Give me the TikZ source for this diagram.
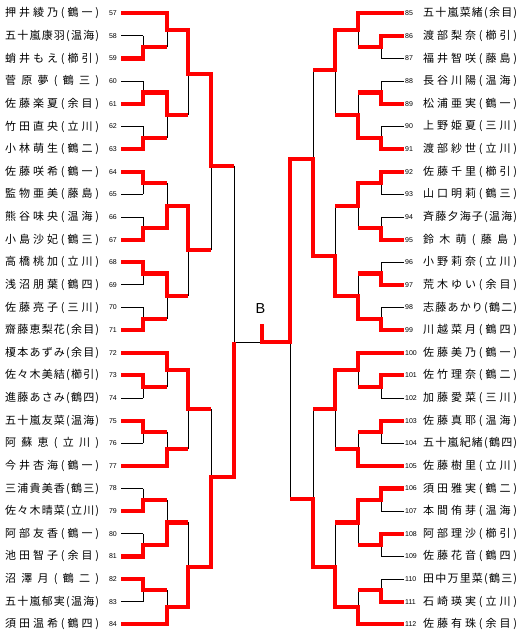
\documentclass[tikz,border=0pt]{standalone}
\usepackage{fontspec}
\newfontfamily\jp{Noto Sans CJK JP}
\newfontfamily\numf{Liberation Sans}
\makeatletter
\def\spreadname#1{\hbox to 94pt{\spr@first#1\@nil}}
\def\spr@first#1{#1\spr@rest}
\def\spr@rest#1{\ifx#1\@nil\else\hss#1\expandafter\spr@rest\fi}
\makeatother
\pgfmathdeclarefunction{rowy}{1}{\pgfmathparse{13.3+#1*22.63}}
\tikzset{
  lose/.style={black, line width=0.9pt},
  win/.style={red, line width=4.2pt, line join=miter},
  nm/.style={inner sep=0pt, anchor=west, font={\jp\fontsize{11pt}{12pt}\selectfont}},
  numl/.style={inner sep=0pt, anchor=east, font={\numf\fontsize{7pt}{8pt}\selectfont}},
  numr/.style={inner sep=0pt, anchor=west, font={\numf\fontsize{7pt}{8pt}\selectfont}},
}
\begin{document}
\begin{tikzpicture}[x=1pt,y=-1pt]
\useasboundingbox[fill=white] (0,0) rectangle (525,638);
% names and numbers, left
\foreach \i/\k/\nmtext in {0/57/押井綾乃(鶴一),1/58/五十嵐康羽(温海),2/59/蛸井もえ(櫛引),3/60/菅原夢(鶴三),4/61/佐藤楽夏(余目),5/62/竹田直央(立川),6/63/小林萌生(鶴二),7/64/佐藤咲希(鶴一),8/65/監物亜美(藤島),9/66/熊谷味央(温海),10/67/小島沙妃(鶴三),11/68/高橋桃加(立川),12/69/浅沼朋葉(鶴四),13/70/佐藤亮子(三川),14/71/齋藤恵梨花(余目),15/72/榎本あずみ(余目),16/73/佐々木美結(櫛引),17/74/進藤あさみ(鶴四),18/75/五十嵐友菜(温海),19/76/阿蘇恵(立川),20/77/今井杏海(鶴一),21/78/三浦貴美香(鶴三),22/79/佐々木晴菜(立川),23/80/阿部友香(鶴一),24/81/池田智子(余目),25/82/沼澤月(鶴二),26/83/五十嵐郁実(温海),27/84/須田温希(鶴四)}{
  \node[nm] (n\k) at (5,{rowy(\i)}) {\expandafter\spreadname\expandafter{\nmtext}};
  \node[numl] (k\k) at (117,{rowy(\i)}) {\k};
}
% names and numbers, right
\foreach \i/\k/\nmtext in {0/85/五十嵐菜緒(余目),1/86/渡部梨奈(櫛引),2/87/福井智咲(藤島),3/88/長谷川陽(温海),4/89/松浦亜実(鶴一),5/90/上野姫夏(三川),6/91/渡部紗世(立川),7/92/佐藤千里(櫛引),8/93/山口明莉(鶴三),9/94/斉藤夕海子(温海),10/95/鈴木萌(藤島),11/96/小野莉奈(立川),12/97/荒木ゆい(余目),13/98/志藤あかり(鶴二),14/99/川越菜月(鶴四),15/100/佐藤美乃(鶴一),16/101/佐竹理奈(鶴二),17/102/加藤愛菜(三川),18/103/佐藤真耶(温海),19/104/五十嵐紀緒(鶴四),20/105/佐藤樹里(立川),21/106/須田雅実(鶴二),22/107/本間侑芽(温海),23/108/阿部理沙(櫛引),24/109/佐藤花音(鶴四),25/110/田中万里菜(鶴三),26/111/石崎瑛実(立川),27/112/佐藤有珠(余目)}{
  \node[nm] (n\k) at (423,{rowy(\i)}) {\expandafter\spreadname\expandafter{\nmtext}};
  \node[numr] (k\k) at (405,{rowy(\i)}) {\k};
}
\node[inner sep=0pt, font={\numf\fontsize{14.5pt}{15pt}\selectfont}] (champ) at (260.5,309) {B};
% ---- black skeleton ----
\foreach \i in {0,...,27}{
  \draw[lose] (121,{rowy(\i)}) -- (143,{rowy(\i)});
  \draw[lose] (404,{rowy(\i)}) -- (381,{rowy(\i)});
}
\foreach \i in {0,15,20,27}{
  \draw[lose] (143,{rowy(\i)}) -- (167,{rowy(\i)});
  \draw[lose] (381,{rowy(\i)}) -- (358,{rowy(\i)});
}
\foreach \a in {1,3,5,7,9,11,13,16,18,21,23,25}{
  \draw[lose] (143,{rowy(\a)}) -- (143,{rowy(\a+1)}) (143,{rowy(\a+0.5)}) -- (167,{rowy(\a+0.5)});
  \draw[lose] (381,{rowy(\a)}) -- (381,{rowy(\a+1)}) (381,{rowy(\a+0.5)}) -- (358,{rowy(\a+0.5)});
}
\foreach \t/\b/\o in {0/1.5/0.75, 3.5/5.5/4.5, 7.5/9.5/8.5, 11.5/13.5/12.5, 15/16.5/15.75, 18.5/20/19.25, 21.5/23.5/22.5, 25.5/27/26.25}{
  \draw[lose] (167,{rowy(\t)}) -- (167,{rowy(\b)}) (167,{rowy(\o)}) -- (188,{rowy(\o)});
  \draw[lose] (358,{rowy(\t)}) -- (358,{rowy(\b)}) (358,{rowy(\o)}) -- (335,{rowy(\o)});
}
\foreach \t/\b/\o in {0.75/4.5/74, 8.5/12.5/250, 15.75/19.25/409.3, 22.5/26.25/566.7}{
  \draw[lose] (188,{rowy(\t)}) -- (188,{rowy(\b)}) (188,\o) -- (211,\o);
}
\foreach \t/\b/\o in {0.75/4.5/70, 8.5/12.5/255.7, 15.75/19.25/409.3, 22.5/26.25/566.7}{
  \draw[lose] (335,{rowy(\t)}) -- (335,{rowy(\b)}) (335,\o) -- (313,\o);
}
\draw[lose] (211,74) -- (211,250) (211,165.7) -- (234,165.7);
\draw[lose] (211,409.3) -- (211,566.7) (211,476.7) -- (234,476.7);
\draw[lose] (313,70) -- (313,255.7) (313,159.3) -- (290,159.3);
\draw[lose] (313,409.3) -- (313,566.7) (313,499) -- (290,499);
\draw[lose] (234,165.7) -- (234,476.7) (234,342) -- (262,342);
\draw[lose] (290,159.3) -- (290,499) (290,342) -- (262,342);
% ---- red winner paths, left ----
\draw[win] (121,{rowy(0)}) -- (167,{rowy(0)}) -- (167,{rowy(0.75)}) -- (188,{rowy(0.75)}) -- (188,74) -- (211,74) -- (211,165.7) -- (234,165.7);
\draw[win] (121,{rowy(2)}) -- (143,{rowy(2)}) -- (143,{rowy(1.5)}) -- (167,{rowy(1.5)});
\draw[win] (121,{rowy(4)}) -- (143,{rowy(4)}) -- (143,{rowy(3.5)}) -- (167,{rowy(3.5)}) -- (167,{rowy(4.5)}) -- (188,{rowy(4.5)});
\draw[win] (121,{rowy(6)}) -- (143,{rowy(6)}) -- (143,{rowy(5.5)}) -- (167,{rowy(5.5)});
\draw[win] (121,{rowy(7)}) -- (143,{rowy(7)}) -- (143,{rowy(7.5)}) -- (167,{rowy(7.5)});
\draw[win] (121,{rowy(10)}) -- (143,{rowy(10)}) -- (143,{rowy(9.5)}) -- (167,{rowy(9.5)}) -- (167,{rowy(8.5)}) -- (188,{rowy(8.5)}) -- (188,250) -- (211,250);
\draw[win] (121,{rowy(11)}) -- (143,{rowy(11)}) -- (143,{rowy(11.5)}) -- (167,{rowy(11.5)}) -- (167,{rowy(12.5)}) -- (188,{rowy(12.5)});
\draw[win] (121,{rowy(14)}) -- (143,{rowy(14)}) -- (143,{rowy(13.5)}) -- (167,{rowy(13.5)});
\draw[win] (121,{rowy(15)}) -- (167,{rowy(15)}) -- (167,{rowy(15.75)}) -- (188,{rowy(15.75)}) -- (188,409.3) -- (211,409.3);
\draw[win] (121,{rowy(16)}) -- (143,{rowy(16)}) -- (143,{rowy(16.5)}) -- (167,{rowy(16.5)});
\draw[win] (121,{rowy(18)}) -- (143,{rowy(18)}) -- (143,{rowy(18.5)}) -- (167,{rowy(18.5)});
\draw[win] (121,{rowy(20)}) -- (167,{rowy(20)}) -- (167,{rowy(19.25)}) -- (188,{rowy(19.25)});
\draw[win] (121,{rowy(22)}) -- (143,{rowy(22)}) -- (143,{rowy(21.5)}) -- (167,{rowy(21.5)});
\draw[win] (121,{rowy(24)}) -- (143,{rowy(24)}) -- (143,{rowy(23.5)}) -- (167,{rowy(23.5)}) -- (167,{rowy(22.5)}) -- (188,{rowy(22.5)});
\draw[win] (121,{rowy(25)}) -- (143,{rowy(25)}) -- (143,{rowy(25.5)}) -- (167,{rowy(25.5)});
\draw[win] (121,{rowy(27)}) -- (167,{rowy(27)}) -- (167,{rowy(26.25)}) -- (188,{rowy(26.25)}) -- (188,566.7) -- (211,566.7) -- (211,476.7) -- (234,476.7) -- (234,342);
% ---- red winner paths, right ----
\draw[win] (404,{rowy(0)}) -- (358,{rowy(0)}) -- (358,{rowy(0.75)}) -- (335,{rowy(0.75)}) -- (335,70) -- (313,70);
\draw[win] (404,{rowy(1)}) -- (381,{rowy(1)}) -- (381,{rowy(1.5)}) -- (358,{rowy(1.5)});
\draw[win] (404,{rowy(4)}) -- (381,{rowy(4)}) -- (381,{rowy(3.5)}) -- (358,{rowy(3.5)});
\draw[win] (404,{rowy(6)}) -- (381,{rowy(6)}) -- (381,{rowy(5.5)}) -- (358,{rowy(5.5)}) -- (358,{rowy(4.5)}) -- (335,{rowy(4.5)});
\draw[win] (404,{rowy(7)}) -- (381,{rowy(7)}) -- (381,{rowy(7.5)}) -- (358,{rowy(7.5)}) -- (358,{rowy(8.5)}) -- (335,{rowy(8.5)});
\draw[win] (404,{rowy(10)}) -- (381,{rowy(10)}) -- (381,{rowy(9.5)}) -- (358,{rowy(9.5)});
\draw[win] (404,{rowy(12)}) -- (381,{rowy(12)}) -- (381,{rowy(11.5)}) -- (358,{rowy(11.5)});
\draw[win] (404,{rowy(14)}) -- (381,{rowy(14)}) -- (381,{rowy(13.5)}) -- (358,{rowy(13.5)}) -- (358,{rowy(12.5)}) -- (335,{rowy(12.5)}) -- (335,255.7) -- (313,255.7) -- (313,159.3) -- (290,159.3) -- (290,342) -- (262,342) -- (262,324);
\draw[win] (404,{rowy(15)}) -- (358,{rowy(15)}) -- (358,{rowy(15.75)}) -- (335,{rowy(15.75)}) -- (335,409.3) -- (313,409.3);
\draw[win] (404,{rowy(16)}) -- (381,{rowy(16)}) -- (381,{rowy(16.5)}) -- (358,{rowy(16.5)});
\draw[win] (404,{rowy(18)}) -- (381,{rowy(18)}) -- (381,{rowy(18.5)}) -- (358,{rowy(18.5)});
\draw[win] (404,{rowy(20)}) -- (358,{rowy(20)}) -- (358,{rowy(19.25)}) -- (335,{rowy(19.25)});
\draw[win] (404,{rowy(21)}) -- (381,{rowy(21)}) -- (381,{rowy(21.5)}) -- (358,{rowy(21.5)}) -- (358,{rowy(22.5)}) -- (335,{rowy(22.5)});
\draw[win] (404,{rowy(23)}) -- (381,{rowy(23)}) -- (381,{rowy(23.5)}) -- (358,{rowy(23.5)});
\draw[win] (404,{rowy(26)}) -- (381,{rowy(26)}) -- (381,{rowy(25.5)}) -- (358,{rowy(25.5)});
\draw[win] (404,{rowy(27)}) -- (358,{rowy(27)}) -- (358,{rowy(26.25)}) -- (335,{rowy(26.25)}) -- (335,566.7) -- (313,566.7) -- (313,499) -- (290,499);
\end{tikzpicture}
\end{document}
